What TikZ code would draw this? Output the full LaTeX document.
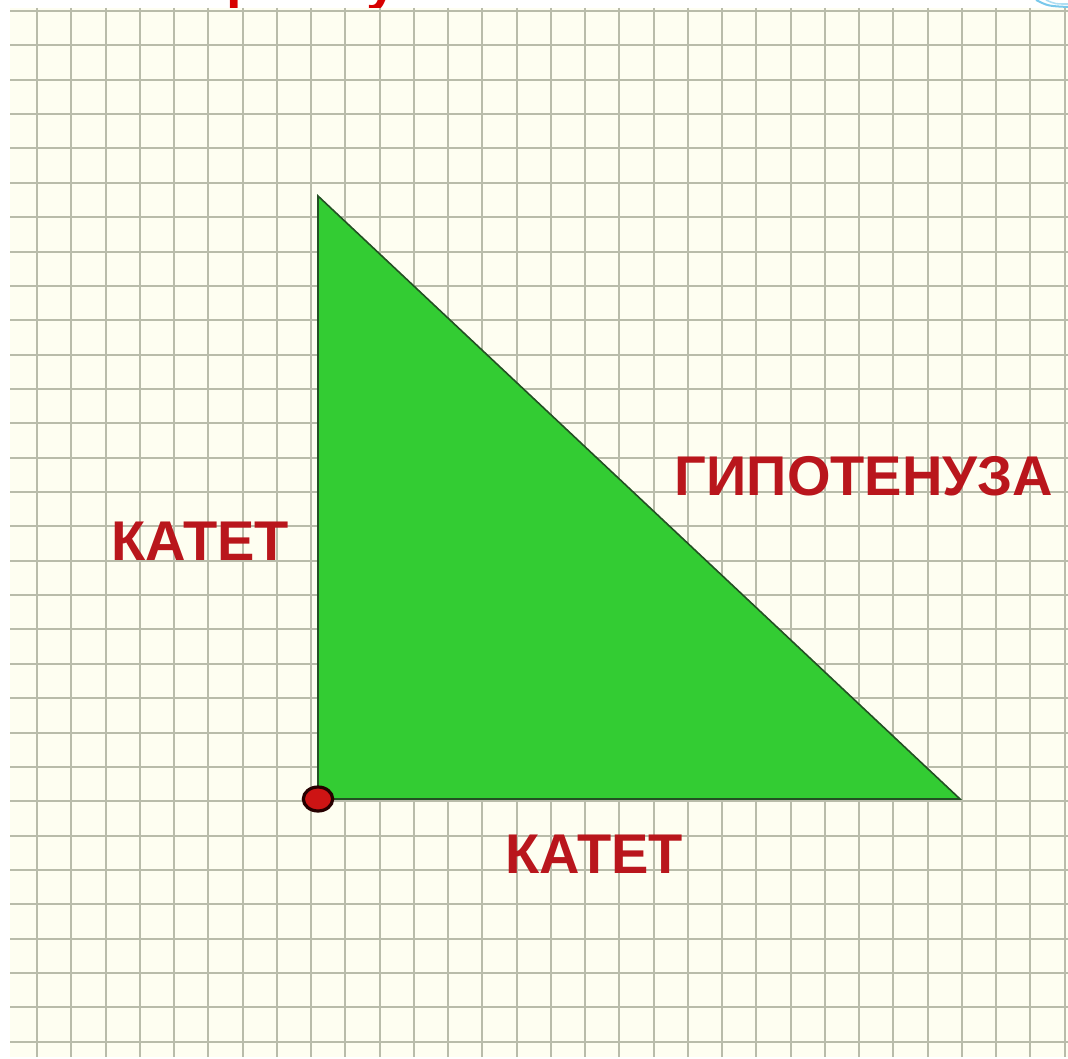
\documentclass[tikz,border=0pt]{standalone}
\usepackage{fontspec}
\setmainfont{Liberation Sans}
\usetikzlibrary{shapes.geometric, positioning}
\definecolor{paper}{RGB}{254,254,241}
\definecolor{gridln}{RGB}{185,188,170}
\definecolor{leafgreen}{RGB}{51,204,51}
\definecolor{edgegreen}{RGB}{35,80,35}
\definecolor{labelred}{RGB}{185,22,28}
\definecolor{titlered}{RGB}{215,0,0}
\definecolor{dotred}{RGB}{205,20,20}
\definecolor{swoosh}{RGB}{120,200,235}
\tikzset{
  lbl/.style={font=\fontsize{42}{48}\selectfont\bfseries, text=labelred,
    inner sep=0pt, anchor=base},
  grd/.style={draw=gridln, line width=1.5pt},
  tri/.style={fill=leafgreen, draw=edgegreen, line width=1.2pt},
  rdot/.style={ellipse, fill=dotred, draw=black!85!red, line width=2.4pt,
    minimum width=22pt, minimum height=18pt, inner sep=0pt},
}

\begin{document}
\begin{tikzpicture}[x=0.75pt, y=-0.75pt]
  \useasboundingbox (0,0) rectangle (1068,1059);
  \fill[white] (0,0) rectangle (1068,1059);

  % cut-off title
  \begin{scope}
    \clip (0,0) rectangle (1068,12);
    \node[font=\fontsize{42}{48}\selectfont\bfseries, text=titlered,
      inner sep=0pt, anchor=base west] (title) at (186,0)
      {Прямоугольный};
    \draw[swoosh, line width=1.5pt] (1036,0) .. controls (1048,6) .. (1068,7);
    \draw[swoosh!60, line width=1.2pt] (1046,0) .. controls (1055,4) .. (1068,4);
  \end{scope}

  % squared paper
  \fill[paper] (10,8) rectangle (1068,1057);
  \begin{scope}
    \clip (10,8) rectangle (1068,1057);
    \foreach \i in {0,...,30}
      \draw[grd] (37+34.25*\i,8) -- (37+34.25*\i,1057);
    \foreach \j in {0,...,30}
      \draw[grd] (10,11+34.36*\j) -- (1068,11+34.36*\j);
  \end{scope}

  \coordinate (top) at (318,196);
  \coordinate (rt) at (318,799);
  \coordinate (far) at (960,799);

  \draw[tri] (top) -- (rt) -- (far) -- cycle;
  \node[rdot] (rtdot) at (rt) {};

  \node[lbl] (legA) at (200,560) {КАТЕТ};
  \node[lbl] (hyp) at (864,495) {ГИПОТЕНУЗА};
  \node[lbl] (legB) at (594,873) {КАТЕТ};
\end{tikzpicture}
\end{document}
